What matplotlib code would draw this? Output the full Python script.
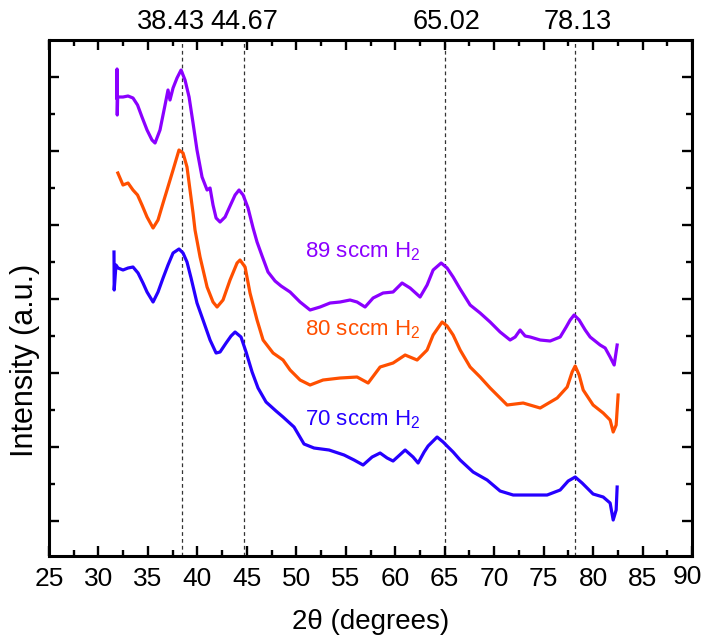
import numpy as np
import matplotlib
matplotlib.use("Agg")
import matplotlib.pyplot as plt
import matplotlib.transforms as mtransforms
from matplotlib.ticker import MultipleLocator

plt.rcParams['font.family'] = ['Liberation Sans', 'DejaVu Sans']
plt.rcParams['mathtext.fontset'] = 'custom'
plt.rcParams['mathtext.rm'] = 'Liberation Sans'
plt.rcParams['mathtext.default'] = 'regular'

# XRD patterns, intensity in arbitrary units (curves are offset vertically)
tth_89 = [31.86, 31.88, 31.90, 31.94, 32.48, 32.99, 33.49, 33.95, 34.40, 34.91, 35.41, 35.72,
          36.22, 36.73, 37.03, 37.23, 37.54, 37.94, 38.35, 38.75, 39.16, 39.56, 39.96, 40.47,
          40.98, 41.28, 41.58, 41.89, 42.29, 42.80, 43.30, 43.81, 44.21, 44.62, 45.12, 45.63,
          46.03, 46.54, 47.14, 47.85, 48.46, 49.37, 50.38, 51.39, 52.40, 53.41, 54.42, 55.43,
          56.14, 56.95, 57.76, 58.77, 59.78, 60.69, 61.50, 62.51, 63.22, 63.83, 64.64, 65.24,
          65.85, 66.56, 67.57, 68.58, 69.59, 70.60, 71.61, 72.12, 72.62, 73.13, 73.64, 74.65,
          75.66, 76.67, 77.28, 77.68, 78.08, 78.59, 79.20, 79.70, 80.71, 81.22, 81.72, 82.13,
          82.43]
int_89 = [45.5, 48.4, 43.8, 45.6, 45.6, 45.7, 45.5, 44.8, 43.6, 42.3, 41.3, 41.0,
          42.3, 44.8, 46.3, 45.3, 46.5, 47.5, 48.3, 47.3, 45.6, 43.0, 40.3, 37.6,
          36.3, 36.5, 34.8, 33.5, 33.1, 33.6, 34.7, 35.8, 36.3, 35.8, 34.5, 32.5,
          31.1, 29.7, 28.1, 27.2, 26.7, 26.1, 25.1, 24.3, 24.6, 25.0, 25.1, 25.3,
          25.1, 24.6, 25.5, 26.0, 26.1, 27.0, 26.5, 25.6, 26.8, 28.3, 29.0, 28.5,
          27.6, 26.4, 24.8, 24.0, 23.1, 22.1, 21.3, 21.6, 22.3, 21.7, 21.6, 21.3,
          21.2, 21.6, 22.6, 23.3, 23.8, 23.3, 22.3, 21.6, 20.8, 20.5, 19.6, 18.8,
          20.8]

tth_80 = [31.96, 32.48, 32.99, 33.49, 33.95, 34.40, 34.91, 35.52, 36.02, 36.53, 36.93, 37.54,
          38.14, 38.55, 38.95, 39.56, 39.76, 40.27, 40.98, 41.58, 41.99, 42.59, 43.30, 44.01,
          44.31, 44.82, 45.32, 46.03, 46.64, 47.65, 48.66, 49.37, 50.38, 51.39, 52.70, 54.42,
          56.14, 57.26, 58.47, 59.78, 61.00, 62.21, 63.22, 63.83, 64.74, 65.24, 65.85, 66.56,
          67.57, 68.58, 69.59, 71.31, 72.93, 74.65, 76.37, 77.38, 77.88, 78.19, 78.59, 79.00,
          80.00, 81.02, 81.72, 82.03, 82.33, 82.53]
int_80 = [38.0, 36.8, 37.0, 36.3, 35.8, 34.8, 33.6, 32.5, 33.3, 35.0, 36.3, 38.3,
          40.3, 40.0, 38.6, 34.0, 32.3, 29.6, 26.6, 25.1, 24.6, 25.3, 27.3, 29.0,
          29.3, 28.6, 26.0, 23.3, 21.3, 20.0, 19.3, 18.3, 17.3, 16.8, 17.3, 17.5,
          17.6, 17.0, 18.6, 19.0, 19.8, 19.3, 20.3, 21.8, 23.1, 22.7, 21.8, 20.3,
          18.6, 17.6, 16.5, 14.8, 15.0, 14.5, 15.5, 16.6, 18.1, 18.7, 17.8, 16.3,
          14.8, 14.0, 13.3, 12.1, 12.8, 15.8]

tth_70 = [31.57, 31.59, 31.77, 31.98, 32.48, 32.99, 33.49, 34.00, 34.50, 34.91, 35.52, 36.02,
          36.53, 37.03, 37.54, 38.14, 38.55, 38.95, 39.36, 39.96, 40.57, 41.28, 41.89, 42.29,
          42.90, 43.40, 43.81, 44.41, 44.92, 45.53, 46.13, 46.94, 47.95, 48.66, 49.77, 50.78,
          51.79, 53.31, 54.83, 55.84, 56.75, 57.66, 58.47, 59.18, 59.78, 61.00, 61.80, 62.31,
          62.92, 63.32, 64.23, 64.84, 65.24, 65.85, 66.56, 67.87, 69.29, 70.60, 71.92, 73.64,
          75.35, 76.67, 77.48, 78.19, 78.89, 80.00, 81.02, 81.72, 82.03, 82.33, 82.43]
int_70 = [30.1, 26.3, 28.8, 28.5, 28.3, 28.5, 28.6, 28.0, 27.0, 26.1, 25.1, 26.1,
          27.5, 28.8, 30.0, 30.4, 30.0, 29.1, 27.5, 25.0, 23.3, 21.3, 20.0, 20.1,
          21.0, 21.7, 22.1, 21.6, 20.1, 18.1, 16.5, 15.1, 14.2, 13.6, 12.6, 10.9,
          10.5, 10.3, 9.8, 9.3, 8.8, 9.6, 10.0, 9.5, 9.2, 10.3, 9.6, 9.0,
          10.1, 10.7, 11.6, 11.1, 10.7, 10.1, 9.3, 8.1, 7.3, 6.2, 5.8, 5.8,
          5.8, 6.3, 7.2, 7.6, 7.0, 5.9, 5.6, 5.0, 3.3, 4.3, 6.6]

peaks = [38.43, 44.67, 65.02, 78.13]
peak_labels = ['38.43', '44.67', '65.02', '78.13']
x_ticks = list(range(25, 91, 5))

series = [
    (tth_89, int_89, '#8B00FF', '89 sccm H$_2$', 30.1),
    (tth_80, int_80, '#FF4F00', '80 sccm H$_2$', 22.3),
    (tth_70, int_70, '#2600FF', '70 sccm H$_2$', 13.3),
]

fig = plt.figure(figsize=(7.04, 6.38), dpi=100)
ax = fig.add_axes([0.0696, 0.1285, 0.9134, 0.8088])

for tth, inten, col, lab, ylab in series:
    ax.plot(tth, inten, color=col, lw=2.3)
    ax.text(50.9, ylab, lab, color=col, fontsize=16, ha='left', va='center')

for p in peaks:
    ax.axvline(p, color='#333333', lw=0.9, ls=(0, (3, 2.5)), zorder=0)

ax.set_xlim(25, 90)
ax.set_ylim(-0.3, 51.3)
# the last label ("90") is written separately so it can sit a little inward
ax.set_xticks(x_ticks, [str(t) for t in x_ticks[:-1]] + [''])
ax.xaxis.set_minor_locator(MultipleLocator(2.5))
ax.set_yticks(3.25 + 7.4 * np.arange(7))
ax.set_yticks(6.95 + 7.4 * np.arange(6), minor=True)
ax.set_yticklabels([])
ax.tick_params(which='both', direction='in', top=True, right=True, width=1.7)
ax.tick_params(which='major', length=7.5, labelsize=19, pad=8)
ax.tick_params(which='minor', length=4.5)
for s in ax.spines.values():
    s.set_linewidth(2.2)

bx = mtransforms.blended_transform_factory(ax.transData, ax.transAxes)
ax.text(x_ticks[-1], -0.041, str(x_ticks[-1]), fontsize=19, ha='center', va='center',
        transform=bx + mtransforms.ScaledTranslation(-5 / 100, 0, fig.dpi_scale_trans))

ax.set_xlabel('2θ (degrees)', fontsize=20)
ax.xaxis.set_label_coords(0.5, -0.128)
ax.xaxis.label.set_va('center')
ax.set_ylabel('Intensity (a.u.)', fontsize=22)
ax.yaxis.set_label_coords(-0.037, 0.38)
ax.yaxis.label.set_va('center')

# peak positions written above the frame; the first one is nudged left
nudges = [-11, 1, 2, 3]
for p, t, dx in zip(peaks, peak_labels, nudges):
    tr = bx + mtransforms.ScaledTranslation(dx / 100, 0, fig.dpi_scale_trans)
    ax.text(p, 1.021, t, transform=tr, fontsize=19.5, ha='center', va='baseline')

fig.savefig('out.png', dpi=100)
